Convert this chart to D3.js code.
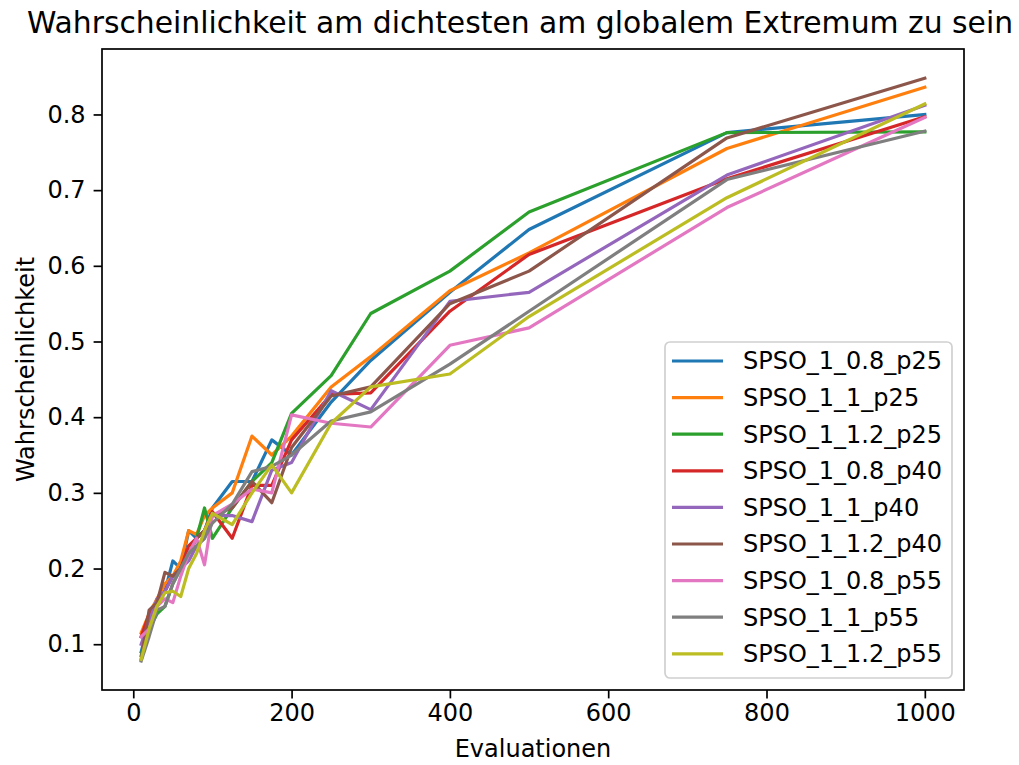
<!DOCTYPE html>
<html><head><meta charset="utf-8">
<script src="https://cdn.jsdelivr.net/npm/d3@7"></script>
<style>body{margin:0;background:#fff}svg{display:block}text{font-family:"DejaVu Sans",sans-serif}</style>
</head><body><svg id="c" width="1019" height="765"></svg>
<script>
const xValues = [10,20,30,40,50,60,70,80,90,100,125,150,175,200,250,300,400,500,750,1000];
const seriesNames = ["SPSO_1_0.8_p25","SPSO_1_1_p25","SPSO_1_1.2_p25","SPSO_1_0.8_p40","SPSO_1_1_p40","SPSO_1_1.2_p40","SPSO_1_0.8_p55","SPSO_1_1_p55","SPSO_1_1.2_p55"];
const s_08_p25 = [0.09,0.13,0.15,0.17,0.21,0.20,0.25,0.24,0.25,0.28,0.315,0.315,0.37,0.35,0.42,0.475,0.565,0.648,0.776,0.80];
const s_1_p25  = [0.115,0.14,0.16,0.18,0.19,0.21,0.25,0.245,0.27,0.28,0.30,0.375,0.35,0.375,0.44,0.48,0.567,0.617,0.755,0.836];
const s_12_p25 = [0.085,0.12,0.14,0.15,0.18,0.20,0.22,0.24,0.28,0.24,0.28,0.315,0.34,0.405,0.455,0.537,0.593,0.671,0.776,0.777];
const s_08_p40 = [0.11,0.14,0.15,0.17,0.19,0.20,0.23,0.24,0.25,0.275,0.24,0.31,0.31,0.37,0.43,0.432,0.54,0.615,0.715,0.797];
const s_1_p40  = [0.10,0.13,0.16,0.17,0.19,0.20,0.21,0.23,0.24,0.27,0.27,0.262,0.33,0.34,0.435,0.41,0.553,0.565,0.72,0.812];
const s_12_p40 = [0.08,0.145,0.155,0.195,0.19,0.20,0.22,0.24,0.25,0.27,0.28,0.315,0.287,0.36,0.428,0.44,0.55,0.593,0.769,0.848];
const s_08_p55 = [0.11,0.12,0.15,0.16,0.155,0.19,0.22,0.24,0.205,0.27,0.285,0.305,0.30,0.403,0.392,0.387,0.495,0.518,0.677,0.796];
const s_1_p55  = [0.078,0.11,0.145,0.15,0.18,0.20,0.22,0.23,0.24,0.26,0.285,0.328,0.335,0.35,0.395,0.407,0.47,0.54,0.714,0.778];
const s_12_p55 = [0.08,0.12,0.15,0.168,0.17,0.163,0.20,0.22,0.25,0.273,0.258,0.30,0.337,0.30,0.392,0.44,0.457,0.533,0.69,0.814];
const seriesValues = [s_08_p25,s_1_p25,s_12_p25,s_08_p40,s_1_p40,s_12_p40,s_08_p55,s_1_p55,s_12_p55];
const colors = ["#1f77b4","#ff7f0e","#2ca02c","#d62728","#9467bd","#8c564b","#e377c2","#7f7f7f","#bcbd22"];
const xTicks = [0,200,400,600,800,1000];
const yTicks = [0.1,0.2,0.3,0.4,0.5,0.6,0.7,0.8];
const titleText = "Wahrscheinlichkeit am dichtesten am globalem Extremum zu sein";
const xLabel = "Evaluationen", yLabel = "Wahrscheinlichkeit";

const L=102, R=964, T=49, B=690;
const FS=24, LW=3.2, SW=1.7;
const svg = d3.select("#c");
const allY = seriesValues.flat();
const xmin=d3.min(xValues), xmax=d3.max(xValues), ymin=d3.min(allY), ymax=d3.max(allY);
const xp=(xmax-xmin)*0.05, yp=(ymax-ymin)*0.05;
const x = d3.scaleLinear().domain([xmin-xp,xmax+xp]).range([L,R]);
const y = d3.scaleLinear().domain([ymin-yp,ymax+yp]).range([B,T]);

const line = d3.line().x((d,i)=>x(xValues[i])).y(d=>y(d));
const g = svg.append("g");
seriesValues.forEach((s,k)=>{
  g.append("path").attr("d",line(s)).attr("fill","none").attr("stroke",colors[k])
   .attr("stroke-width",LW).attr("stroke-linejoin","round").attr("stroke-linecap","square");
});

const xa = svg.append("g").attr("transform",`translate(0,${B})`)
  .call(d3.axisBottom(x).tickValues(xTicks).tickFormat(d3.format("d")).tickSize(8.4).tickPadding(6));
const ya = svg.append("g").attr("transform",`translate(${L},0)`)
  .call(d3.axisLeft(y).tickValues(yTicks).tickFormat(d3.format(".1f")).tickSize(8.4).tickPadding(8));
[xa,ya].forEach(a=>{a.select(".domain").remove();
  a.selectAll("line").attr("stroke","#000").attr("stroke-width",SW);
  a.selectAll("text").attr("font-size",FS).attr("fill","#000").attr("font-family","DejaVu Sans");});
svg.append("rect").attr("x",L).attr("y",T).attr("width",R-L).attr("height",B-T)
  .attr("fill","none").attr("stroke","#000").attr("stroke-width",SW);

svg.append("text").attr("x",520).attr("y",33).attr("text-anchor","middle").attr("font-size",29.8).text(titleText);
svg.append("text").attr("x",(L+R)/2).attr("y",757).attr("text-anchor","middle").attr("font-size",FS).text(xLabel);
svg.append("text").attr("transform",`translate(34,${(T+B)/2}) rotate(-90)`).attr("text-anchor","middle").attr("font-size",FS).text(yLabel);

const lg = svg.append("g");
lg.append("rect").attr("x",665).attr("y",342).attr("width",287).attr("height",336).attr("rx",5)
  .attr("fill","#fff").attr("fill-opacity",0.8).attr("stroke","#d0d0d0").attr("stroke-width",1.7);
seriesNames.forEach((n,k)=>{
  const cy = 361 + k*36.6;
  lg.append("line").attr("x1",672).attr("x2",723).attr("y1",cy).attr("y2",cy).attr("stroke",colors[k]).attr("stroke-width",LW);
  lg.append("text").attr("x",743).attr("y",cy).attr("dy","0.35em").attr("font-size",FS).attr("fill","#000").text(n);
});
</script></body></html>
